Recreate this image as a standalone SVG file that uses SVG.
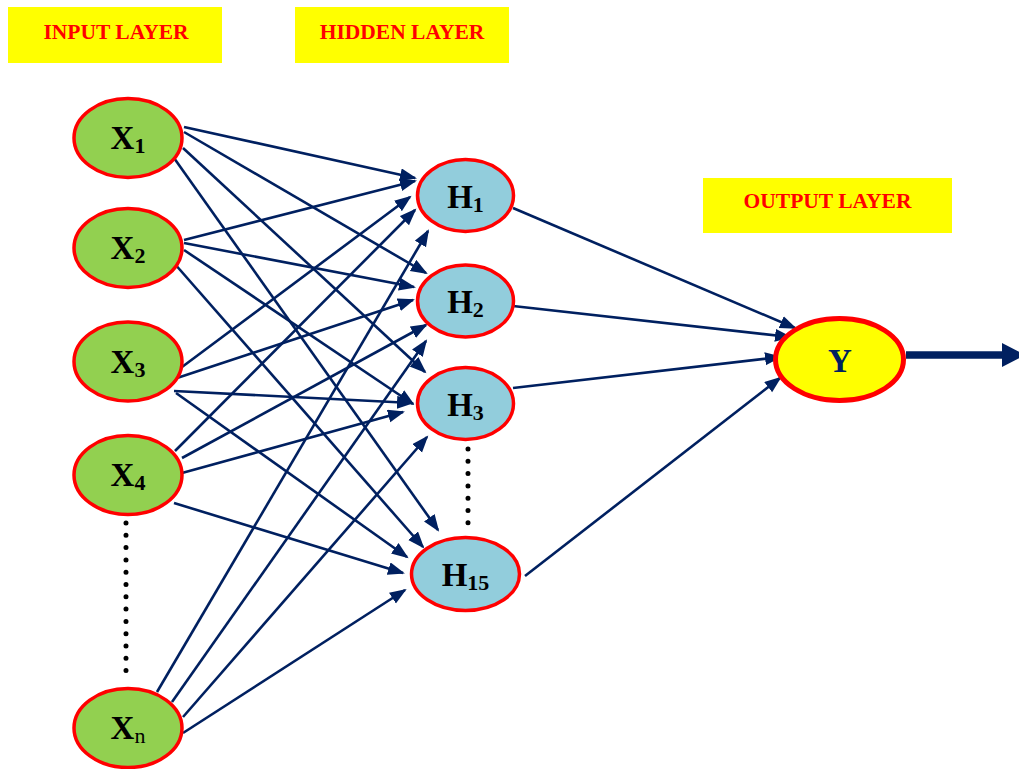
<svg xmlns="http://www.w3.org/2000/svg" width="1019" height="769" viewBox="0 0 1019 769">
  <style>
    .title { fill: #ffff00; }
    .title-text { font-family: "Liberation Serif", "Times New Roman", serif; font-weight: bold; font-size: 21.5px; fill: #ff0000; text-anchor: middle; }
    .in { fill: #92d050; stroke: #ff0000; stroke-width: 3.5; }
    .hid { fill: #92cddc; stroke: #ff0000; stroke-width: 3.5; }
    .out { fill: #ffff00; stroke: #ff0000; stroke-width: 5; }
    .lbl { font-family: "Liberation Serif", "Times New Roman", serif; font-weight: bold; font-size: 33px; fill: #000000; text-anchor: middle; }
    .sub { font-size: 22px; }
    .reg { font-weight: normal; }
    .edge { stroke: #002060; stroke-width: 2.6; fill: none; marker-end: url(#arrow); }
    .dots { stroke: #000000; stroke-width: 5; stroke-linecap: round; stroke-dasharray: 0 12.3; fill: none; }
  </style>
  <defs>
    <marker id="arrow" markerUnits="userSpaceOnUse" markerWidth="18" markerHeight="14" refX="15" refY="6.5" orient="auto">
      <path d="M0,0 L17,6.5 L0,13 z" fill="#002060"/>
    </marker>
  </defs>

  <rect width="1019" height="769" fill="#ffffff"/>

  <!-- layer titles -->
  <g id="title-input">
    <rect class="title" x="8" y="7" width="214" height="56"/>
    <text class="title-text" x="116" y="39">INPUT LAYER</text>
  </g>
  <g id="title-hidden">
    <rect class="title" x="295" y="7" width="214" height="56"/>
    <text class="title-text" x="402" y="39">HIDDEN LAYER</text>
  </g>
  <g id="title-output">
    <rect class="title" x="703" y="178" width="249" height="55"/>
    <text class="title-text" x="827.5" y="208">OUTPUT LAYER</text>
  </g>

  <!-- connectors -->
  <g id="connectors">
    <!-- X1 -->
    <line class="edge" x1="184" y1="127" x2="415" y2="178"/>
    <line class="edge" x1="184" y1="132" x2="426" y2="273"/>
    <line class="edge" x1="183" y1="148" x2="425" y2="372"/>
    <line class="edge" x1="174" y1="158" x2="438" y2="530"/>
    <!-- X2 -->
    <line class="edge" x1="184" y1="240" x2="415" y2="181"/>
    <line class="edge" x1="184" y1="243" x2="414" y2="287"/>
    <line class="edge" x1="184" y1="250" x2="413" y2="404"/>
    <line class="edge" x1="174" y1="263" x2="423" y2="547"/>
    <!-- X3 -->
    <line class="edge" x1="182" y1="367" x2="410" y2="197"/>
    <line class="edge" x1="174" y1="379" x2="413" y2="300"/>
    <line class="edge" x1="174" y1="391" x2="412" y2="403"/>
    <line class="edge" x1="176" y1="393" x2="407" y2="557"/>
    <!-- X4 -->
    <line class="edge" x1="175" y1="451" x2="415" y2="210"/>
    <line class="edge" x1="182" y1="458" x2="426" y2="325"/>
    <line class="edge" x1="182" y1="473" x2="403" y2="412"/>
    <line class="edge" x1="174" y1="503" x2="403" y2="573"/>
    <!-- Xn -->
    <line class="edge" x1="157" y1="692" x2="428" y2="231"/>
    <line class="edge" x1="172" y1="702" x2="426" y2="341"/>
    <line class="edge" x1="183" y1="717" x2="427" y2="437"/>
    <line class="edge" x1="183" y1="733" x2="405" y2="590"/>
    <!-- hidden to output -->
    <line class="edge" x1="513" y1="208" x2="795" y2="328"/>
    <line class="edge" x1="513" y1="306" x2="790" y2="337"/>
    <line class="edge" x1="513" y1="388" x2="780" y2="357"/>
    <line class="edge" x1="525" y1="576" x2="780" y2="378"/>
    <!-- output arrow -->
    <line x1="906" y1="355" x2="1004" y2="355" stroke="#002060" stroke-width="7.5"/>
    <polygon points="1002,343 1025,355 1002,367" fill="#002060"/>
  </g>

  <!-- ellipsis dots -->
  <path class="dots" d="M126,523 L126,671"/>
  <path class="dots" d="M468,449 L468,523"/>

  <!-- input nodes -->
  <g id="node-x1">
    <ellipse class="in" cx="128" cy="138" rx="54" ry="39.5"/>
    <text class="lbl" x="128" y="149">X<tspan class="sub" dy="4">1</tspan></text>
  </g>
  <g id="node-x2">
    <ellipse class="in" cx="128" cy="248" rx="54" ry="39.5"/>
    <text class="lbl" x="128" y="259">X<tspan class="sub" dy="4">2</tspan></text>
  </g>
  <g id="node-x3">
    <ellipse class="in" cx="128" cy="361.5" rx="54" ry="39.5"/>
    <text class="lbl" x="128" y="372.5">X<tspan class="sub" dy="4">3</tspan></text>
  </g>
  <g id="node-x4">
    <ellipse class="in" cx="128" cy="475" rx="54" ry="39.5"/>
    <text class="lbl" x="128" y="486">X<tspan class="sub" dy="4">4</tspan></text>
  </g>
  <g id="node-xn">
    <ellipse class="in" cx="128" cy="728" rx="54" ry="39.5"/>
    <text class="lbl" x="128" y="739">X<tspan class="sub reg" dy="4">n</tspan></text>
  </g>

  <!-- hidden nodes -->
  <g id="node-h1">
    <ellipse class="hid" cx="465.5" cy="195.5" rx="48" ry="36"/>
    <text class="lbl" x="465.5" y="207.5">H<tspan class="sub" dy="4">1</tspan></text>
  </g>
  <g id="node-h2">
    <ellipse class="hid" cx="465.5" cy="301" rx="48" ry="36"/>
    <text class="lbl" x="465.5" y="313">H<tspan class="sub" dy="4">2</tspan></text>
  </g>
  <g id="node-h3">
    <ellipse class="hid" cx="465.5" cy="403.5" rx="48" ry="36"/>
    <text class="lbl" x="465.5" y="415.5">H<tspan class="sub" dy="4">3</tspan></text>
  </g>
  <g id="node-h15">
    <ellipse class="hid" cx="465.5" cy="574" rx="54" ry="36.5"/>
    <text class="lbl" x="465.5" y="586">H<tspan class="sub" dy="4">15</tspan></text>
  </g>

  <!-- output node -->
  <g id="node-y">
    <ellipse class="out" cx="839.5" cy="359.5" rx="64" ry="41"/>
    <text class="lbl" x="840" y="371.5" style="fill:#002060">Y</text>
  </g>
</svg>
